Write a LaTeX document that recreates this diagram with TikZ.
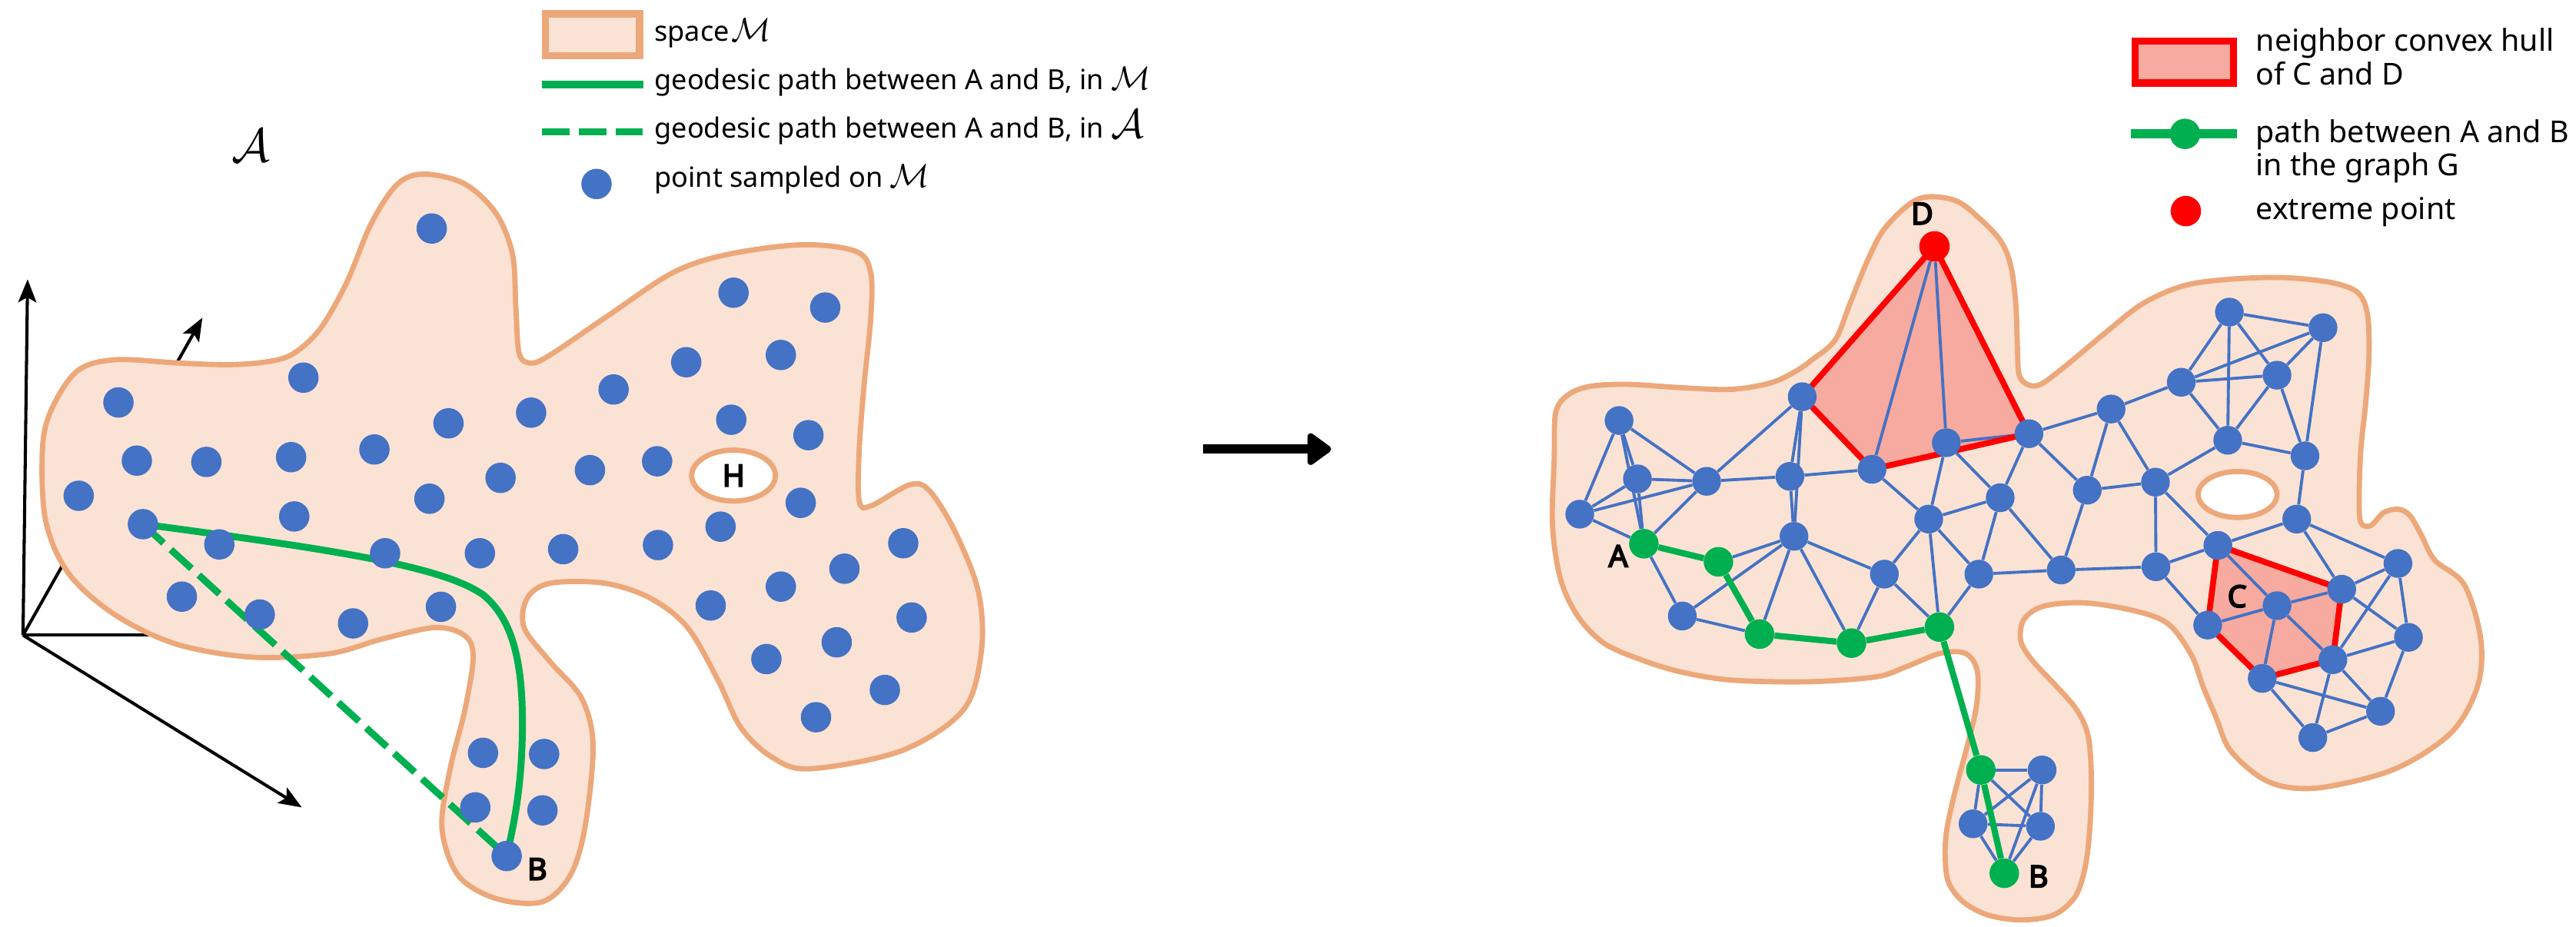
\RequirePackage{fix-cm}
\documentclass[tikz,border=0pt]{standalone}
\usepackage{fontspec}
\setmainfont{Noto Sans}[AutoFakeBold=4.5]
\usetikzlibrary{arrows.meta}
\definecolor{nodeblue}{RGB}{68,114,196}
\definecolor{peach}{RGB}{250,226,212}
\definecolor{peachline}{RGB}{236,168,122}
\definecolor{pgreen}{RGB}{0,176,80}
\definecolor{pred}{RGB}{255,0,0}
\definecolor{hullfill}{RGB}{246,170,160}
\pgfdeclarelayer{bg}
\pgfdeclarelayer{edges}
\pgfsetlayers{bg,edges,main}
\newcommand\lgd{\fontsize{16.9}{20}\selectfont}
\newcommand\rlgd{\fontsize{18.4}{21}\selectfont}
\newcommand\calM{{\fontsize{20}{22}\selectfont$\mathcal{M}$}}
\newcommand\calAs{{\fontsize{25}{27}\selectfont$\mathcal{A}$}}
\begin{document}
\begin{tikzpicture}[x=1pt,y=-1pt,
  bdot/.style={circle,fill=nodeblue,inner sep=0pt,minimum size=17.5pt},
  ldot/.style={circle,fill=nodeblue,inner sep=0pt,minimum size=18.5pt},
  gdot/.style={circle,fill=pgreen,inner sep=0pt,minimum size=18pt},
  rdot/.style={circle,fill=pred,inner sep=0pt,minimum size=18.5pt},
  bline/.style={draw=nodeblue,line width=1.8pt},
  gline/.style={draw=pgreen,line width=3.8pt},
  hullline/.style={draw=pred,line width=3.6pt,line join=round},
  manifold/.style={fill=peach,draw=peachline,line width=3.2pt},
  holeshape/.style={fill=white,draw=peachline,line width=3.2pt},
  axisline/.style={draw=black,line width=1.9pt,-{Stealth[length=14pt,width=11pt,inset=3pt]}},
  lbl/.style={font=\fontsize{18.5}{20}\selectfont\bfseries,inner sep=0pt},
  lgtext/.style={anchor=base west,inner sep=0pt,font=\lgd},
  rgtext/.style={anchor=base west,inner sep=0pt,font=\rlgd},
]
\useasboundingbox (0,0) rectangle (1568,564);

% ---------------- LEFT PANEL: dots ----------------
\node[ldot] (l1) at (262.8,139.1) {};
\node[ldot] (l2) at (446.5,178.2) {};
\node[ldot] (l3) at (502.3,187.2) {};
\node[ldot] (l4) at (417.7,220.5) {};
\node[ldot] (l5) at (475.3,216.1) {};
\node[ldot] (l6) at (184.7,229.9) {};
\node[ldot] (l7) at (72.1,245) {};
\node[ldot] (l8) at (373.5,237.1) {};
\node[ldot] (l9) at (323.3,251.2) {};
\node[ldot] (l10) at (273,257.7) {};
\node[ldot] (l11) at (445.1,255.5) {};
\node[ldot] (l12) at (492.1,264.9) {};
\node[ldot] (l13) at (83.3,280.4) {};
\node[ldot] (l14) at (125.6,281.2) {};
\node[ldot] (l15) at (177.2,278.3) {};
\node[ldot] (l16) at (227.9,273.6) {};
\node[ldot] (l17) at (304.7,290.9) {};
\node[ldot] (l18) at (359.1,286.2) {};
\node[ldot] (l19) at (400,280.8) {};
\node[ldot] (l20) at (47.9,301.8) {};
\node[ldot] (l21) at (261.4,303.6) {};
\node[ldot] (l22) at (487.4,306.1) {};
\node[ldot] (lA) at (87,319.1) {};
\node[ldot] (l24) at (179.1,314.4) {};
\node[ldot] (l25) at (438.6,320.6) {};
\node[ldot] (l26) at (133.5,331.4) {};
\node[ldot] (l27) at (234.4,336.8) {};
\node[ldot] (l28) at (292.1,336.8) {};
\node[ldot] (l29) at (342.8,334.3) {};
\node[ldot] (l30) at (400.5,331.8) {};
\node[ldot] (l31) at (549.8,330.7) {};
\node[ldot] (l32) at (514,346.2) {};
\node[ldot] (l33) at (110.7,363.2) {};
\node[ldot] (l34) at (158.1,374.1) {};
\node[ldot] (l35) at (214.9,379.5) {};
\node[ldot] (l36) at (268.4,369.4) {};
\node[ldot] (l37) at (432.6,368.6) {};
\node[ldot] (l38) at (475.3,357.1) {};
\node[ldot] (l39) at (554.9,375.9) {};
\node[ldot] (l40) at (509.3,391) {};
\node[ldot] (l41) at (466.5,401.2) {};
\node[ldot] (l42) at (538.6,420) {};
\node[ldot] (l43) at (496.7,436.6) {};
\node[ldot] (l44) at (294,458.3) {};
\node[ldot] (l45) at (331.2,459) {};
\node[ldot] (l46) at (289.3,491.5) {};
\node[ldot] (l47) at (330.2,493.3) {};
\node[ldot] (lB) at (308.4,521.1) {};

\node[lbl] (labH) at (446.5,289.5) {H};
\node[lbl] (labLB) at (327,529) {B};
\node[inner sep=0pt] (calA) at (152.5,88.5) {\fontsize{29}{31}\selectfont$\mathcal{A}$};

% axes coordinates
\coordinate (O) at (14,386.7);
\coordinate (Yt) at (16.8,170);
\coordinate (Xe) at (95,386.7);
\coordinate (Zt) at (123.2,193.4);
\coordinate (Wt) at (183.7,491.5);

% ---------------- RIGHT PANEL: nodes ----------------
\node[gdot] (rA) at (1000.6,331) {};
\node[bdot] (n1) at (985.5,256) {};
\node[bdot] (n2) at (996.7,291.5) {};
\node[bdot] (n3) at (961.6,313) {};
\node[bdot] (n5) at (1038.8,293) {};
\node[gdot] (g2) at (1046,342) {};
\node[bdot] (n7) at (1024,375) {};
\node[gdot] (g3) at (1071,386) {};
\node[bdot] (n9) at (1089.5,290) {};
\node[bdot] (n10) at (1092,326.5) {};
\node[bdot] (n11) at (1097,241.5) {};
\node[rdot] (D) at (1177.5,150) {};
\node[bdot] (n13) at (1139.5,285.7) {};
\node[bdot] (n14) at (1184.7,269.5) {};
\node[bdot] (n15) at (1235,264) {};
\node[bdot] (n16) at (1174,316) {};
\node[bdot] (n17) at (1217.5,303) {};
\node[bdot] (n18) at (1147,349.5) {};
\node[gdot] (g4) at (1127,391.5) {};
\node[gdot] (g5) at (1180.5,381.7) {};
\node[bdot] (n21) at (1204.5,349.5) {};
\node[bdot] (n22) at (1254.6,347) {};
\node[bdot] (n23) at (1270.5,298.4) {};
\node[bdot] (n24) at (1285,249) {};
\node[bdot] (n25) at (1312,293.5) {};
\node[bdot] (n26) at (1312.3,345) {};
\node[bdot] (n27) at (1327.7,232.7) {};
\node[bdot] (n28) at (1357,190) {};
\node[bdot] (n29) at (1414,199.5) {};
\node[bdot] (n30) at (1386,228.4) {};
\node[bdot] (n31) at (1356,268) {};
\node[bdot] (n32) at (1403,277.5) {};
\node[bdot] (n33) at (1398,316) {};
\node[bdot] (n34) at (1350,332) {};
\node[bdot] (n35) at (1343.8,380.5) {};
\node[bdot] (nC) at (1386,368.7) {};
\node[bdot] (n37) at (1425.4,358.7) {};
\node[bdot] (n38) at (1459.6,343) {};
\node[bdot] (n39) at (1466,388) {};
\node[bdot] (n40) at (1420,401.6) {};
\node[bdot] (n41) at (1377,413) {};
\node[bdot] (n42) at (1449,433) {};
\node[bdot] (n43) at (1407.8,449) {};
\node[gdot] (g6) at (1205.7,468.7) {};
\node[bdot] (n45) at (1243,468.7) {};
\node[bdot] (n46) at (1201,501.5) {};
\node[bdot] (n47) at (1242,503) {};
\node[gdot] (rB) at (1220,531.6) {};

\node[lbl] (labA) at (985,338.5) {A};
\node[lbl] (labB) at (1240.8,533.5) {B};
\node[lbl] (labC) at (1361.7,363) {C};
\node[lbl] (labD) at (1170,130) {D};

% middle arrow
\coordinate (arrS) at (732.3,273.4);
\coordinate (arrE) at (810.3,273.4);
\draw[line width=5.5pt,-{Triangle[length=16pt,width=22pt,round]}] (arrS) -- (arrE);

% ---------------- LEGENDS ----------------
\node[ldot] (lgdot) at (363.1,112) {};
\node[lgtext] (lg1) at (398.2,25) {space\kern1pt\calM};
\node[lgtext] (lg2) at (398.2,54.6) {geodesic path between A and B, in \calM};
\node[lgtext] (lg3) at (398.2,84.2) {geodesic path between A and B, in \calAs};
\node[lgtext] (lg4) at (398.2,113.9) {point sampled on \calM};
\coordinate (lgs1) at (330,51.5);
\coordinate (lge1) at (391.5,51.5);
\coordinate (lgs2) at (330,80.3);
\coordinate (lge2) at (391.5,80.3);

\node[gdot,minimum size=18.5pt] (rgdot) at (1330,81.5) {};
\node[rdot] (rrdot) at (1330.5,128.5) {};
\node[rgtext] (rg1) at (1373,31) {neighbor convex hull};
\node[rgtext] (rg1b) at (1373,51.5) {of C and D};
\node[rgtext] (rg2) at (1373,87) {path between A and B};
\node[rgtext] (rg2b) at (1373,107) {in the graph G};
\node[rgtext] (rg3) at (1373,133.5) {extreme point};
\coordinate (rgs) at (1297,81.5);
\coordinate (rge) at (1361.7,81.5);

% ---------------- BACKGROUND ----------------
\begin{pgfonlayer}{bg}
  % axes
  \draw[axisline] (O) -- (Yt);
  \draw[axisline] (O) -- (Zt);
  \draw[axisline] (O) -- (Wt);
  \draw[draw=black,line width=1.9pt] (O) -- (Xe);
  % left manifold
  \path[manifold] plot[smooth cycle,tension=0.55] coordinates {
    (25.8,274) (31,250) (46.8,226) (70,219) (109,221) (140,222) (164,220)
    (179,215) (195,200) (211,172) (226,136) (242,112) (258.4,106) (283,112)
    (302,130) (312,155) (314,187) (316,215) (323,221) (335,216) (371.8,191)
    (409.5,166) (442.3,155) (488,149) (521,153) (530,166) (530,194) (526,234)
    (523,274) (523,305) (530,308) (554,295) (566,299) (581.5,324) (595.5,360)
    (597.4,396) (586.5,432) (548.7,457) (493,468) (470,461) (451,443) (437,414)
    (418.5,382) (395.6,364) (367.8,355) (335,355) (321,364) (319,382) (335,403)
    (354,425) (361,454) (356,504) (347,533) (330,549) (302,547) (279,533)
    (269,504) (274,468) (283,432) (288,400) (283,387) (265,382) (232.6,389)
    (200,398) (153,400) (107,392) (69.6,374) (41.7,349) (27.8,317)};
  \path[holeshape] (446.5,289.5) ellipse [x radius=25.5pt,y radius=15.5pt];
  % right manifold
  \path[manifold] plot[smooth cycle,tension=0.55] coordinates {
    (945,320) (946,280) (947,251) (955,240) (969,235) (992,234) (1023,236)
    (1054,237) (1078,233) (1093,226) (1103,219) (1117,207) (1126,185)
    (1137,158) (1148,138) (1168,121) (1190,122) (1206,134) (1218,147)
    (1224,162) (1227,185) (1228,212) (1229,228) (1234,234) (1242,234)
    (1257,223) (1281,203) (1304,185) (1329,174) (1357,170) (1390,169)
    (1419,172) (1435,178) (1441,191) (1442,216) (1440,245) (1437,274)
    (1436,303) (1437,318) (1443,320) (1451,312) (1460,310) (1467,314)
    (1474,326) (1482,341) (1500,356) (1510,389) (1508,418) (1492,446)
    (1458,468) (1416,479) (1391,479) (1374,472) (1357,456) (1349,437)
    (1341,418) (1334,399) (1320,380) (1300,372) (1269,367) (1244,369)
    (1232,377) (1230,390) (1237,402) (1251,417) (1264,432) (1271,448)
    (1273,474) (1272,505) (1269,529) (1263,546) (1250,557) (1230,560)
    (1210,557) (1195,549) (1186,537) (1184,521) (1185,505) (1190,482)
    (1198,452) (1203,430) (1204,412) (1201,402) (1194,397) (1180,398)
    (1160,406) (1142,412) (1101,415) (1054,414) (1023,409) (1000,402)
    (977,392) (961,376) (950,353)};
  \path[holeshape] (1362,301) ellipse [x radius=24pt,y radius=14pt];
  % hull fills
  \path[fill=hullfill] (n11.center) -- (D.center) -- (n15.center) -- (n13.center) -- cycle;
  \path[fill=hullfill] (n34.center) -- (n37.center) -- (n40.center) -- (n41.center) -- (n35.center) -- cycle;
  % left geodesic paths
  \draw[draw=pgreen,line width=4.2pt] (lA.center) .. controls (198,334) and (268,344) .. (294,362)
     .. controls (311,376) and (318,400) .. (318,440)
     .. controls (318,480) and (312,505) .. (lB.center);
  \draw[draw=pgreen,line width=4.2pt,dash pattern=on 17pt off 6pt] (lA.center) -- (lB.center);
  % legend symbols
  \draw[fill=peach,draw=peachline,line width=4.4pt] (332,8.4) rectangle (389.3,34);
  \draw[draw=pgreen,line width=4.5pt] (lgs1) -- (lge1);
  \draw[draw=pgreen,line width=4.5pt,dash pattern=on 16.8pt off 5.5pt] (lgs2) -- (lge2);
  \draw[fill=hullfill,draw=pred,line width=4.4pt] (1299.5,25) rectangle (1359.5,50.5);
  \draw[draw=pgreen,line width=5.5pt] (rgs) -- (rge);
\end{pgfonlayer}

% ---------------- EDGES ----------------
\begin{pgfonlayer}{edges}
  \foreach \a/\b in {n1/n3, n1/n2, n1/rA, n2/rA, n1/n5, n3/n2, n3/n5, n2/n5, n3/rA,
    rA/n5, rA/n7, n7/g3, n7/n10, g2/n10, g3/n10, n10/g4, n10/n18, n5/n9, n5/n11,
    n9/n11, n10/n11, n9/n10, n9/n13, D/n13, D/n14, n14/n15, n13/n16, n14/n16,
    n14/n17, n15/n17, n15/n23, n15/n24, n16/n17, n16/n18, n16/g5, n16/n21,
    n17/n21, n17/n22, n18/g4, n18/g5, n21/g5, n21/n22, n22/n23, n22/n26,
    n23/n24, n23/n25, n24/n25, n24/n27, n25/n26, n28/n29, n28/n27, n28/n31,
    n28/n30, n29/n27, n29/n30, n29/n32, n27/n30, n27/n31, n30/n31, n30/n32,
    n31/n32, n31/n25, n32/n33, n25/n34, n26/n34, n26/n35, n34/n33, n34/nC,
    n33/n37, n33/n38, nC/n35, nC/n37, nC/n41, nC/n40, n37/n38, n37/n39,
    n40/n38, n40/n39, n40/n42, n40/n43, n41/n42, n41/n43, n43/n42, n38/n39,
    n39/n42, g6/n45, g6/n46, g6/n47, n46/n45, n46/n47, n46/rB, n45/n47,
    n45/rB, n47/rB}
    \draw[bline] (\a) -- (\b);
  \draw[hullline] (n11.center) -- (D.center) -- (n15.center) -- (n13.center) -- cycle;
  \draw[hullline] (n34.center) -- (n37.center) -- (n40.center) -- (n41.center) -- (n35.center) -- cycle;
  \draw[gline] (rA) -- (g2) -- (g3) -- (g4) -- (g5) -- (g6) -- (rB);
\end{pgfonlayer}
\end{tikzpicture}
\end{document}
